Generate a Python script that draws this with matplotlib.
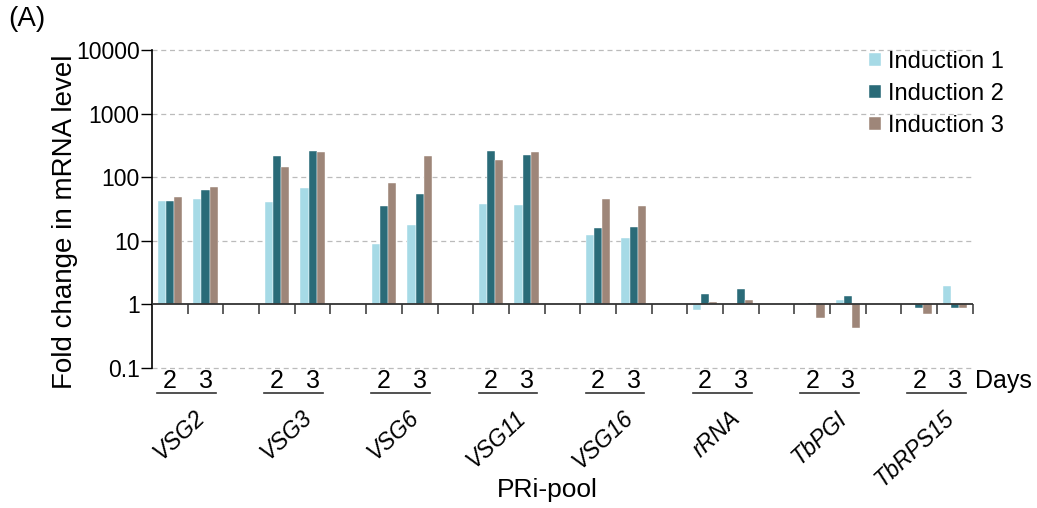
import matplotlib
matplotlib.use("Agg")
import matplotlib.pyplot as plt
import matplotlib.transforms as mtransforms
import numpy as np

plt.rcParams['font.family'] = ['Liberation Sans', 'DejaVu Sans']

genes = ['VSG2', 'VSG3', 'VSG6', 'VSG11', 'VSG16', 'rRNA', 'TbPGI', 'TbRPS15']
days = ['2', '3']
series = ['Induction 1', 'Induction 2', 'Induction 3']
# values ordered gene by gene, day 2 then day 3
ind1 = [42, 45, 41, 67, 8.8, 17.5, 38, 36, 12.5, 10.9, 0.82, 1.0, 0.97, 1.18, 1.02, 1.94]
ind2 = [42, 64, 215, 257, 35, 55, 261, 226, 15.8, 16.7, 1.44, 1.77, 1.07, 1.37, 0.87, 0.87]
ind3 = [49, 70, 146, 248, 81, 218, 188, 248, 45, 35, 1.09, 1.18, 0.62, 0.42, 0.70, 0.88]
yticks = [0.1, 1, 10, 100, 1000, 10000]
ytick_labels = ['0.1', '1', '10', '100', '1000', '10000']

colors = ['#a6dae6', '#2a6b78', '#9e8679']
fs = 18

fig = plt.figure(figsize=(10.37, 5.08), dpi=100)
ax = fig.add_axes([0.1466, 0.2756, 0.7915, 0.626])

# 2 days per gene plus one empty slot between genes
pos = np.array([3 * g + d for g in range(len(genes)) for d in range(len(days))])
w = 0.23
for i, (vals, c, lab) in enumerate(zip([ind1, ind2, ind3], colors, series)):
    vals = np.array(vals, dtype=float)
    ax.bar(pos + (i - 1) * w, vals - 1, bottom=1, width=w, color=c,
           label=lab, edgecolor='white', linewidth=0.3, zorder=3)

ax.set_yscale('log')
ax.set_ylim(0.1, 10000)
ncat = 3 * len(genes) - 1
ax.set_xlim(-0.5, ncat - 0.5)
ax.set_yticks(yticks)
ax.set_yticklabels(ytick_labels, fontsize=16.5)
ax.yaxis.set_minor_locator(matplotlib.ticker.NullLocator())
ax.tick_params(axis='y', direction='out', length=8, width=1, pad=1)
ax.set_xticks([])
for s in ['top', 'right', 'bottom']:
    ax.spines[s].set_visible(False)
ax.spines['left'].set_linewidth(1.2)

for yv in [0.1, 10, 100, 1000, 10000]:
    ax.axhline(yv, color='#bbbbbb', lw=0.9, ls=(0, (4, 3)), zorder=1, clip_on=False)
ax.axhline(1, color='#333333', lw=1.3, zorder=4)
bounds = np.arange(0.5, ncat, 1.0)
ax.plot(bounds, np.ones_like(bounds), ls='none', marker=3, ms=7,
        mew=1.1, color='#333333', zorder=4)

fig.text(65 / 1037, 1 - 222 / 508, 'Fold change in mRNA level', rotation=90,
         ha='center', va='center', fontsize=20)

trans = mtransforms.blended_transform_factory(ax.transData, fig.transFigure)
for g, name in enumerate(genes):
    for d, dl in enumerate(days):
        ax.text(3 * g + d, 0.25, dl, transform=trans, ha='center', va='center', fontsize=fs)
    ax.plot([3 * g - 0.35, 3 * g + 1.3], [0.226, 0.226], transform=trans,
            color='#333333', lw=1.2, clip_on=False)
    ax.text(3 * g + 0.66, 0.2, name, transform=trans, ha='right', va='top',
            rotation=43, rotation_mode='anchor', fontsize=16.5, style='italic')
ax.text(ncat - 0.45, 0.25, 'Days', transform=trans, ha='left', va='center', fontsize=fs)

fig.text(0.528, 0.035, 'PRi-pool', ha='center', va='center', fontsize=fs + 1)
fig.text(0.008, 0.962, '(A)', ha='left', va='center', fontsize=fs + 2)

fig.legend(loc='upper left', bbox_to_anchor=(0.829, 0.918), frameon=False,
           fontsize=17, handlelength=0.5, handleheight=0.5, handletextpad=0.3,
           labelspacing=0.42, borderaxespad=0)

fig.savefig('out.png', dpi=100)
